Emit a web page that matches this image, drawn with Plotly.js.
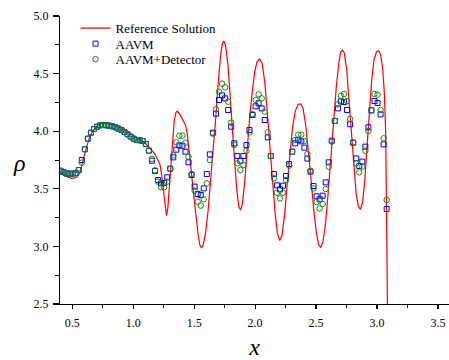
<!DOCTYPE html>
<html>
<head>
<meta charset="utf-8">
<script src="https://cdn.plot.ly/plotly-3.0.1.min.js"></script>
<style>html,body{margin:0;padding:0;background:#fff;}#chart{width:449px;height:360px;}</style>
</head>
<body>
<div id="chart"></div>
<script>
// Reference solution
const refX = [0.402,0.454,0.495,0.530,0.557,0.577,0.596,0.617,0.639,0.661,0.686,0.713,0.740,0.768,0.809,0.850,0.891,0.932,0.973,1.014,1.055,1.096,1.123,1.150,1.178,1.199,1.219,1.232,1.246,1.260,1.273,1.284,1.295,1.309,1.322,1.336,1.350,1.361,1.383,1.410,1.429,1.443,1.456,1.473,1.492,1.514,1.533,1.547,1.560,1.574,1.593,1.615,1.637,1.656,1.678,1.697,1.716,1.732,1.743,1.757,1.776,1.792,1.811,1.831,1.850,1.866,1.880,1.896,1.915,1.934,1.956,1.978,1.997,2.016,2.038,2.057,2.079,2.098,2.120,2.142,2.164,2.183,2.202,2.221,2.243,2.265,2.284,2.306,2.328,2.352,2.374,2.393,2.415,2.437,2.459,2.481,2.503,2.522,2.538,2.557,2.579,2.601,2.623,2.645,2.667,2.686,2.702,2.716,2.732,2.751,2.770,2.790,2.809,2.828,2.847,2.863,2.880,2.899,2.918,2.937,2.956,2.975,2.995,3.014,3.030,3.046,3.060,3.071,3.076,3.082,3.085,3.087];
const refY = [3.634,3.605,3.591,3.597,3.628,3.692,3.779,3.866,3.938,3.987,4.025,4.054,4.068,4.074,4.068,4.057,4.039,4.010,3.981,3.947,3.924,3.900,3.872,3.837,3.802,3.764,3.715,3.634,3.504,3.345,3.267,3.331,3.490,3.721,3.924,4.083,4.161,4.175,4.146,4.097,4.054,3.981,3.866,3.692,3.490,3.258,3.099,3.012,2.989,3.012,3.113,3.316,3.576,3.837,4.126,4.416,4.647,4.763,4.783,4.748,4.589,4.358,4.039,3.750,3.490,3.345,3.316,3.374,3.562,3.837,4.126,4.358,4.517,4.604,4.627,4.589,4.430,4.184,3.866,3.547,3.287,3.113,3.050,3.099,3.287,3.562,3.808,4.025,4.170,4.233,4.236,4.198,4.054,3.837,3.576,3.316,3.113,3.012,2.992,3.041,3.215,3.490,3.808,4.126,4.401,4.589,4.690,4.705,4.676,4.531,4.271,3.981,3.692,3.461,3.345,3.322,3.374,3.562,3.866,4.184,4.444,4.618,4.690,4.699,4.661,4.546,4.329,3.981,3.547,2.824,2.500,1.000];

// Cell positions of the numerical results
const cellX = [0.404,0.429,0.454,0.479,0.504,0.529,0.554,0.579,0.604,0.629,0.654,0.679,0.704,0.729,0.754,0.779,0.804,0.829,0.854,0.879,0.904,0.929,0.954,0.979,1.004,1.029,1.054,1.079,1.104,1.129,1.154,1.179,1.204,1.229,1.254,1.279,1.304,1.329,1.354,1.379,1.404,1.429,1.454,1.479,1.504,1.529,1.554,1.579,1.604,1.629,1.654,1.679,1.704,1.729,1.754,1.779,1.804,1.829,1.854,1.879,1.904,1.929,1.954,1.979,2.004,2.029,2.054,2.079,2.104,2.129,2.154,2.179,2.204,2.229,2.254,2.279,2.304,2.329,2.354,2.379,2.404,2.429,2.454,2.479,2.504,2.529,2.554,2.579,2.604,2.629,2.654,2.679,2.704,2.729,2.754,2.779,2.804,2.829,2.854,2.879,2.904,2.929,2.954,2.979,3.004,3.029,3.054,3.079];

const aavmY = [3.657,3.646,3.634,3.631,3.631,3.637,3.663,3.750,3.843,3.935,3.987,4.019,4.039,4.051,4.054,4.051,4.048,4.042,4.034,4.022,4.010,3.993,3.973,3.953,3.935,3.924,3.921,3.915,3.889,3.831,3.744,3.655,
3.576,3.547,3.550,3.600,3.675,3.773,3.840,3.877,3.874,3.822,3.730,3.620,3.519,3.455,3.446,3.504,3.628,3.799,3.987,4.152,4.271,4.311,4.285,4.184,4.039,3.895,3.785,3.744,3.785,3.880,4.010,4.141,4.216,4.242,4.198,4.097,3.947,3.785,3.628,3.530,3.495,3.527,3.611,3.715,3.822,3.895,3.924,3.912,3.857,3.762,3.649,3.524,3.435,3.409,3.440,3.556,3.730,3.918,4.089,4.198,4.259,4.253,4.184,4.060,3.900,3.764,3.698,3.736,3.866,4.034,4.181,4.262,4.245,4.146,3.886,3.325];

const detY = [3.657,3.646,3.634,3.631,3.631,3.637,3.663,3.727,3.843,3.935,3.987,4.019,4.039,4.051,4.054,4.051,4.048,4.042,4.034,4.022,4.010,3.993,3.973,3.953,3.935,3.924,3.921,3.915,3.889,3.831,3.760,3.660,
3.562,3.513,3.513,3.562,3.672,3.791,3.903,3.961,3.961,3.900,3.779,3.628,3.484,3.388,3.354,3.409,3.547,3.750,3.979,4.190,4.343,4.413,4.381,4.256,4.074,3.880,3.721,3.663,3.707,3.831,3.990,4.149,4.271,4.320,4.285,4.170,3.990,3.785,3.591,3.466,3.417,3.466,3.576,3.701,3.822,3.924,3.970,3.970,3.915,3.802,3.657,3.504,3.385,3.330,3.368,3.498,3.692,3.909,4.089,4.233,4.308,4.323,4.262,4.106,3.903,3.721,3.643,3.692,3.831,4.002,4.181,4.323,4.317,4.184,3.938,3.403];

const xTicks = [0.5,1.0,1.5,2.0,2.5,3.0,3.5];
const xTickText = ['0.5','1.0','1.5','2.0','2.5','3.0','3.5'];
const yTicks = [2.5,3.0,3.5,4.0,4.5,5.0];
const yTickText = ['2.5','3.0','3.5','4.0','4.5','5.0'];

const serif = '"Liberation Serif", "Times New Roman", serif';

const traces = [
  {x: refX, y: refY, type: 'scatter', mode: 'lines', name: 'Reference Solution', legend: 'legend',
   line: {color: '#ff0000', width: 1.2}},
  {x: cellX, y: aavmY, type: 'scatter', mode: 'markers', name: 'AAVM', legend: 'legend2',
   marker: {symbol: 'square-open', size: 5, color: '#0000ff', line: {width: 1, color: '#0000ff'}}},
  {x: cellX, y: detY, type: 'scatter', mode: 'markers', name: 'AAVM+Detector', legend: 'legend3',
   marker: {symbol: 'circle-open', size: 5.5, color: '#128a12', line: {width: 1, color: '#128a12'}}}
];

function leg(y) {
  return {x: 0.04, y: y, xanchor: 'left', yanchor: 'top', bgcolor: 'rgba(0,0,0,0)',
          font: {family: serif, size: 13, color: '#000'}, itemwidth: 30};
}

const layout = {
  width: 449, height: 360,
  margin: {l: 60, r: 0, t: 16, b: 56},
  paper_bgcolor: '#ffffff', plot_bgcolor: '#ffffff',
  font: {family: serif, size: 12, color: '#000'},
  showlegend: true,
  legend: leg(1.01),
  legend2: leg(0.956),
  legend3: leg(0.902),
  xaxis: {range: [0.4, 3.59], showgrid: false, zeroline: false, showline: true, linecolor: '#000', linewidth: 1.2,
          tickmode: 'array', tickvals: xTicks, ticktext: xTickText, ticks: 'outside', ticklen: 4, tickwidth: 1.2, tickcolor: '#000',
          minor: {tickmode: 'linear', tick0: 0.25, dtick: 0.5, ticks: 'outside', ticklen: 3, tickwidth: 1, tickcolor: '#000', showgrid: false},
          tickfont: {family: serif, size: 12}, ticklabelstandoff: 3,
          title: {text: 'x', font: {family: serif, size: 24, style: 'italic'}, standoff: 10}},
  yaxis: {range: [2.5, 5.0], showgrid: false, zeroline: false, showline: true, linecolor: '#000', linewidth: 1.2,
          tickmode: 'array', tickvals: yTicks, ticktext: yTickText, ticks: 'outside', ticklen: 6, tickwidth: 1.2, tickcolor: '#000',
          minor: {tickmode: 'linear', tick0: 2.75, dtick: 0.5, ticks: 'outside', ticklen: 4, tickwidth: 1, tickcolor: '#000', showgrid: false},
          tickfont: {family: serif, size: 12}, ticklabelstandoff: 2},
  annotations: [{text: 'ρ', xref: 'paper', yref: 'paper', x: -0.103, y: 0.49, xanchor: 'center', yanchor: 'middle',
                 showarrow: false, font: {family: serif, size: 24, style: 'italic', color: '#000'}}]
};

Plotly.newPlot('chart', traces, layout, {displayModeBar: false, staticPlot: true});
</script>
</body>
</html>
